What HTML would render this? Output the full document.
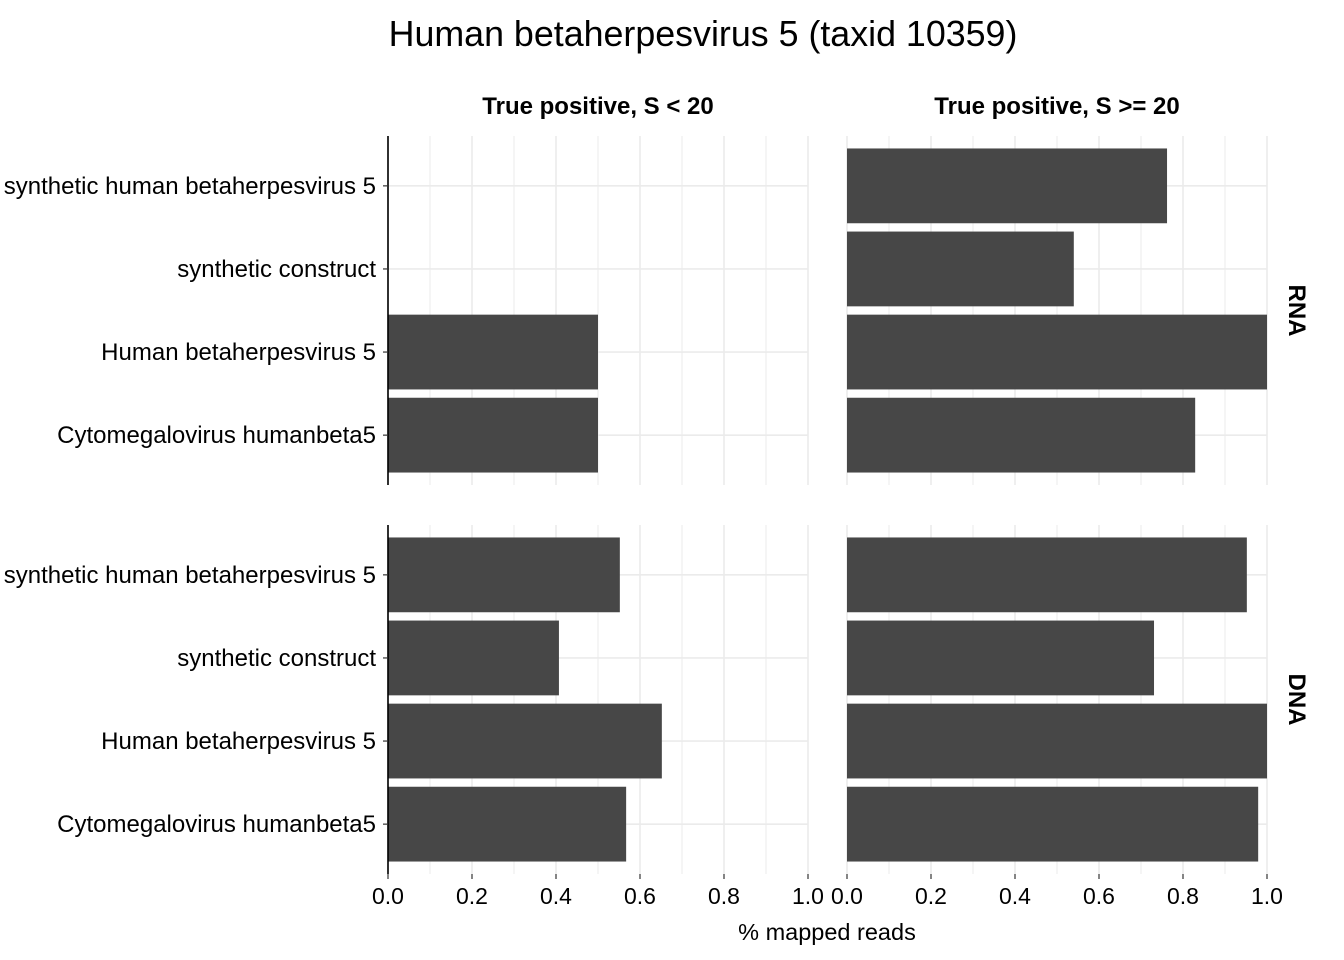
<!DOCTYPE html>
<html><head><meta charset="utf-8"><style>
html,body{margin:0;padding:0;background:#fff;width:1344px;height:960px;overflow:hidden}
svg text{font-family:"Liberation Sans",Arial,sans-serif;}
</style></head><body>
<svg id="chart" width="1344" height="960" xmlns="http://www.w3.org/2000/svg">
<text x="703" y="46" font-size="35.8" text-anchor="middle" fill="#000">Human betaherpesvirus 5 (taxid 10359)</text>
<text x="598" y="114" font-size="24" font-weight="bold" text-anchor="middle">True positive, S &lt; 20</text>
<text x="1057" y="114" font-size="24" font-weight="bold" text-anchor="middle">True positive, S &gt;= 20</text>
<text x="827" y="940" font-size="23.5" text-anchor="middle">% mapped reads</text>
<g id="plots"></g>
</svg>
<script>
const categories = ["synthetic human betaherpesvirus 5","synthetic construct","Human betaherpesvirus 5","Cytomegalovirus humanbeta5"];
const rows = ["RNA","DNA"];
const cols = ["S<20","S>=20"];
const rnaLow = [0, 0, 0.5, 0.5];
const rnaHigh = [0.762, 0.54, 1.0, 0.829];
const dnaLow = [0.552, 0.407, 0.652, 0.567];
const dnaHigh = [0.952, 0.731, 1.0, 0.979];
const xTicks = [0, 0.2, 0.4, 0.6, 0.8, 1.0];
const xTickLabels = ["0.0","0.2","0.4","0.6","0.8","1.0"];

const NS = "http://www.w3.org/2000/svg";
const g = document.getElementById("plots");
const panelX = [388, 847], panelW = 420;
const panelY = [136, 525], panelH = 349;
const data = [[rnaLow, rnaHigh],[dnaLow, dnaHigh]];
function mk(tag, attrs){const e=document.createElementNS(NS,tag);for(const k in attrs)e.setAttribute(k,attrs[k]);g.appendChild(e);return e;}
const step = panelH/4.2;
function yPos(r,i){return panelY[r] + step*(i+0.6);}
for(let r=0;r<2;r++){
  for(let c=0;c<2;c++){
    const x0=panelX[c], y0=panelY[r];
    const xs=v=>x0+v*panelW;
    for(let m=0;m<=10;m++){
      const l=mk("line",{x1:xs(m/10),x2:xs(m/10),y1:y0,y2:y0+panelH,stroke:"#ebebeb","stroke-width":m%2?1:1.6});
      
      
    }
    for(let i=0;i<4;i++){
      const l=mk("line",{x1:x0,x2:x0+panelW,y1:yPos(r,i),y2:yPos(r,i),stroke:"#ebebeb","stroke-width":1.6});
      
      
    }
    const vals=data[r][c];
    for(let i=0;i<4;i++){
      if(vals[i]<=0) continue;
      const b=mk("rect",{x:x0,y:yPos(r,i)-step*0.45,width:vals[i]*panelW,height:step*0.9,fill:"#474747"});
      
      
    }
    if(r===1){
      for(const t of xTicks){
        const tk=mk("line",{x1:xs(t),x2:xs(t),y1:y0+panelH,y2:y0+panelH+5,stroke:"#333","stroke-width":1.2});
        
        
      }
      xTicks.forEach((t,k)=>{
        const tx=mk("text",{x:xs(t),y:904,"font-size":23,"text-anchor":"middle",fill:"#000"});
        tx.textContent=xTickLabels[k];
        
        
      });
    }
    if(c===0){
      const ax=mk("line",{x1:x0,x2:x0,y1:y0,y2:y0+panelH,stroke:"#000","stroke-width":1.6});
      
      
      categories.forEach((cat,i)=>{
        const tk=mk("line",{x1:x0-5,x2:x0,y1:yPos(r,i),y2:yPos(r,i),stroke:"#333","stroke-width":1.2});
        
        
        const tx=mk("text",{x:x0-12,y:yPos(r,i)+8,"font-size":24,"text-anchor":"end",fill:"#000"});
        tx.textContent=cat;
        
        
      });
    }
  }
  const cy=panelY[r]+panelH/2;
  const st=mk("text",{x:1289,y:cy,"font-size":24,"font-weight":"bold","text-anchor":"middle",transform:"rotate(90 1289 "+cy+")"});
  st.textContent=rows[r];
  
  
}
</script>
</body></html>
